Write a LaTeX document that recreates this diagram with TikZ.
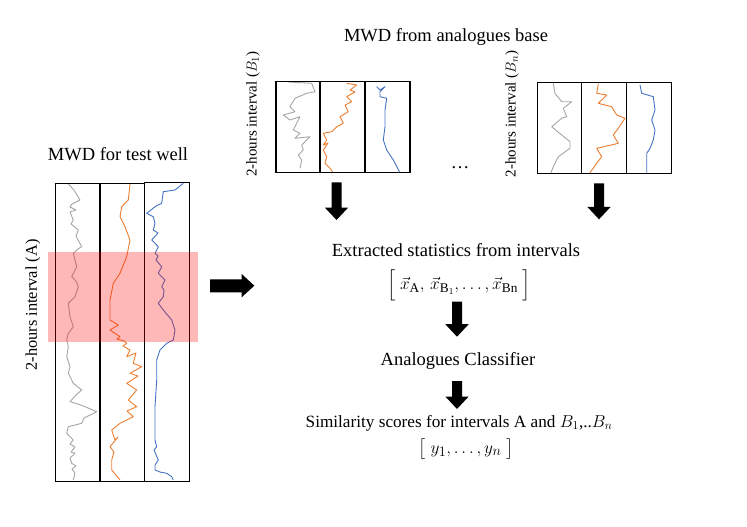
\documentclass[tikz,border=0pt]{standalone}
\usepackage{fontspec}
\setmainfont{Liberation Serif}
\usepackage{amsmath}
\definecolor{mgray}{RGB}{165,165,165}
\definecolor{morange}{RGB}{237,125,49}
\definecolor{mblue}{RGB}{68,114,196}
\newcommand{\downarrowshape}[3]{% x, ytop, ytip
  \fill (#1-5,#2) -- (#1+5,#2) -- (#1+5,#3-12.5) -- (#1+11.7,#3-12.5) -- (#1,#3) -- (#1-11.7,#3-12.5) -- (#1-5,#3-12.5) -- cycle;}
\begin{document}
\begin{tikzpicture}[x=1pt,y=-1pt,
  trace/.style={line width=0.9pt, line join=round},
  panel/.style={draw=black, line width=1.3pt},
  big/.style={font=\fontsize{18.5}{22}\selectfont, inner sep=0pt},
  mid/.style={font=\fontsize{17.2}{20}\selectfont, inner sep=0pt},
  side/.style={font=\fontsize{16.4}{20}\selectfont, inner sep=0pt, rotate=90},
  sideb/.style={font=\fontsize{15}{18}\selectfont, inner sep=0pt, rotate=90}]
\useasboundingbox (0,0) rectangle (747,527);

% ---------- left panel: test well ----------
\node[big, anchor=base] (tA) at (118,160) {MWD for test well};
\node[side] (lA) at (33,305) {2-hours interval (A)};
\draw[trace, mgray] plot coordinates {(68.3,184) (74,190) (80,200) (72,204) (70,207) (76,210) (70,212) (73.3,220) (71,224) (78.3,230) (76,236) (81.7,246.7) (78,249) (73.3,253.3) (76.7,266.7) (71.7,276.7) (76,281) (78.3,286.7) (75,296.7) (68.3,303.3) (70,316.7) (73.3,326.7) (68,334) (66.7,340) (68.3,346.7) (66.7,356.7) (70,366.7) (68.3,373.3) (73.3,383.3) (81.7,390) (76,395) (70,401.7) (78,404) (85,406.7) (96.7,411.7) (86.7,416.7) (84,418) (81.7,423.3) (68.3,426.7) (66.7,433.3) (73.3,440) (70,444) (75,447) (71,452) (75,453.3) (70,458) (71.7,463.3) (76,466) (72,469) (75,473.3) (73.3,480)};
\draw[trace, morange] plot coordinates {(130,184) (128.3,200) (121.7,206.7) (120,216.7) (125,226.7) (130,240) (126.7,256.7) (120,273.3) (113.3,283.3) (110,300) (110,320) (118.3,325) (110,330) (120,336.7) (117,339) (124,341) (126.7,343.3) (123,346) (130,350) (126.7,356.7) (136,353) (133.3,363.3) (141.7,366.7) (130,373.3) (138,376) (126.7,383.3) (136.7,390) (128.3,400) (136.7,406.7) (127,411) (133.3,416.7) (120,423.3) (111.7,430) (115,440) (118,437) (110,446.7) (114,452) (111.7,460) (111.7,470) (116,475) (120,480)};
\draw[trace, mblue] plot coordinates {(183.3,183.3) (175,190) (163.3,191.7) (161.7,203.3) (156,206) (146.7,213.3) (153.3,216.7) (155,223.3) (153.3,230) (158,233) (151.7,240) (158.3,246.7) (155,253.3) (158,256) (156,260) (161.7,266.7) (158.3,273.3) (165,280) (161.7,286.7) (164,290) (163.3,296.7) (158.3,303.3) (163.3,310) (171.7,320) (175,330) (173.3,340) (166.7,343.3) (160,350) (156.7,360) (156.7,380) (155,406.7) (155,440) (156.7,446.7) (154,450) (158.3,460) (155,465) (155,470) (160,472) (166.7,473.3) (171.7,476.7) (173.3,480)};
\draw[panel] (55.7,183.3) rectangle (100,481.7);
\draw[panel] (100,183.3) rectangle (144.7,481.7);
\draw[panel] (144.7,182.7) rectangle (189.3,481.7);
\fill[red, opacity=0.28] (47.7,252) rectangle (197.7,342.3);

% right arrow
\fill (210,279.3) -- (241.7,279.3) -- (241.7,274) -- (254.3,285.7) -- (241.7,297.3) -- (241.7,292.3) -- (210,292.3) -- cycle;

% ---------- analogues base ----------
\node[big, anchor=base] (tB) at (446,41.7) {MWD from analogues base};
\node[sideb] (lB1) at (253,114) {2-hours interval ($B_1$)};
\node[sideb] (lBn) at (512,114) {2-hours interval ($B_n$)};
\node[big] (dots) at (460,168) {\dots};

% B1 traces
\draw[trace, mgray] plot coordinates {(288.3,82) (311.7,83.3) (315,91.7) (306.7,93.3) (295,98.3) (290,106.7) (295,111.7) (283.3,115) (290,120) (300,116.7) (293.3,130) (300,133.3) (295,138.3) (310,136.7) (301.7,145) (303.3,150) (298.3,155) (301.7,160) (300,168.3)};
\draw[trace, morange] plot coordinates {(346.7,83.3) (356.7,85) (350,90) (355,92) (346.7,96.7) (351.7,101.7) (345,105) (348.3,111.7) (340,116.7) (343.3,123.3) (336.7,126.7) (331.7,131.7) (323.3,133.3) (326.7,140) (323.3,145) (328,143) (323.3,150) (326.7,156.7) (325,163.3) (330,168.3) (333.3,172.7)};
\draw[trace, mblue] plot coordinates {(376.7,86.7) (380,90) (385,86.7) (380,91.7) (380,96.7) (386.7,98.3) (385,110) (385,126.7) (383.3,140) (386.7,150) (393.3,160) (400,172.7)};
\draw[panel] (276,81.7) rectangle (320,172.7);
\draw[panel] (320,81.7) rectangle (365,172.7);
\draw[panel] (365,81.7) rectangle (410,172.7);

% Bn traces
\draw[trace, mgray] plot coordinates {(553.3,83.3) (555,93.3) (561.7,101.7) (571.7,101.7) (563.3,108.3) (566.7,116.7) (562,118) (551.7,126.7) (561.7,135) (570,141.7) (570,148.3) (558.3,156.7) (553.3,166.7) (550.7,173.3)};
\draw[trace, morange] plot coordinates {(598.3,84) (596.7,93.3) (606.7,95) (598.3,103.3) (611.7,106.7) (616.7,115) (625,118.3) (618.3,128.3) (613.3,135) (618.3,143.3) (596.7,148.3) (601.7,156.7) (596.7,163.3) (590,172.7)};
\draw[trace, mblue] plot coordinates {(640,85) (641.7,93.3) (653.3,96.7) (655,110) (651.7,120) (655,130) (653.3,140) (650,148.3) (646.7,153.3) (646.7,172.7)};
\draw[panel] (537.7,82.7) rectangle (581.7,173.3);
\draw[panel] (581.7,82.7) rectangle (626.7,173.3);
\draw[panel] (626.7,82.7) rectangle (671.7,173.3);

% down arrows
\downarrowshape{336.5}{182.3}{220}
\downarrowshape{599}{183.3}{219.3}
\downarrowshape{457}{301.7}{336.7}
\downarrowshape{457}{381}{409}

% ---------- pipeline ----------
\node[big, anchor=base] (ext) at (456,256) {Extracted statistics from intervals};
\node[font=\fontsize{19}{23}\selectfont, inner sep=0pt] (vec) at (459,285) {$\Bigl[\;\vec{x}_{\mathrm{A}},\,\vec{x}_{\mathrm{B}_1},\ldots,\vec{x}_{\mathrm{Bn}}\;\Bigr]$};
\node[big, anchor=base] (cls) at (458,365) {Analogues Classifier};
\node[mid, anchor=base] (sim) at (459,427) {Similarity scores for intervals A and $B_1$,..$B_n$};
\node[font=\fontsize{19}{23}\selectfont, inner sep=0pt] (ys) at (466,449) {$\bigl[\;y_1,\ldots,y_n\;\bigr]$};
\end{tikzpicture}
\end{document}
